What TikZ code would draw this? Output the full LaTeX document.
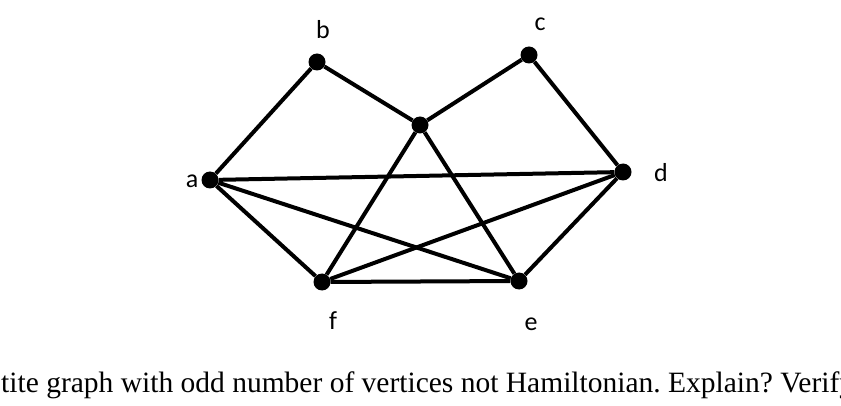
\documentclass[tikz,border=0pt]{standalone}
\usepackage{fontspec}
\setmainfont{Liberation Serif}
\newfontfamily\lblfont{Carlito}
\frenchspacing
\begin{document}
\begin{tikzpicture}[x=1pt,y=-1pt,
  vtx/.style={circle,fill=black,inner sep=0pt,minimum size=17pt},
  lbl/.style={font=\lblfont\fontsize{26}{30}\selectfont,inner sep=0pt,anchor=base},
  edge/.style={line width=4pt}]
\useasboundingbox (0,0) rectangle (841,406);
\clip (0,0) rectangle (841,406);

% vertices
\node[vtx] (a) at (210,180) {};
\node[vtx] (b) at (317,62) {};
\node[vtx] (c) at (529,55) {};
\node[vtx] (g) at (420,125) {};
\node[vtx] (d) at (623,172) {};
\node[vtx] (e) at (519,281) {};
\node[vtx] (f) at (322,282) {};

% labels
\node[lbl] (la) at (192,188) {a};
\node[lbl] (lb) at (323,39) {b};
\node[lbl] (lc) at (540,31) {c};
\node[lbl] (ld) at (661,182) {d};
\node[lbl] (le) at (531,330) {e};
\node[lbl] (lf) at (333,329) {f};

% edges
\draw[edge] (a) -- (b);
\draw[edge] (b) -- (g);
\draw[edge] (g) -- (c);
\draw[edge] (c) -- (d);
\draw[edge] (a) -- (d);
\draw[edge] (a) -- (e);
\draw[edge] (a) -- (f);
\draw[edge] (g) -- (f);
\draw[edge] (g) -- (e);
\draw[edge] (f) -- (d);
\draw[edge] (f) -- (e);
\draw[edge] (e) -- (d);

\node[font=\fontsize{29.5}{34}\selectfont,inner sep=0pt,anchor=base west] (q) at (1,392)
  {tite graph with odd number of vertices not Hamiltonian. Explain? Verify};
\end{tikzpicture}
\end{document}
